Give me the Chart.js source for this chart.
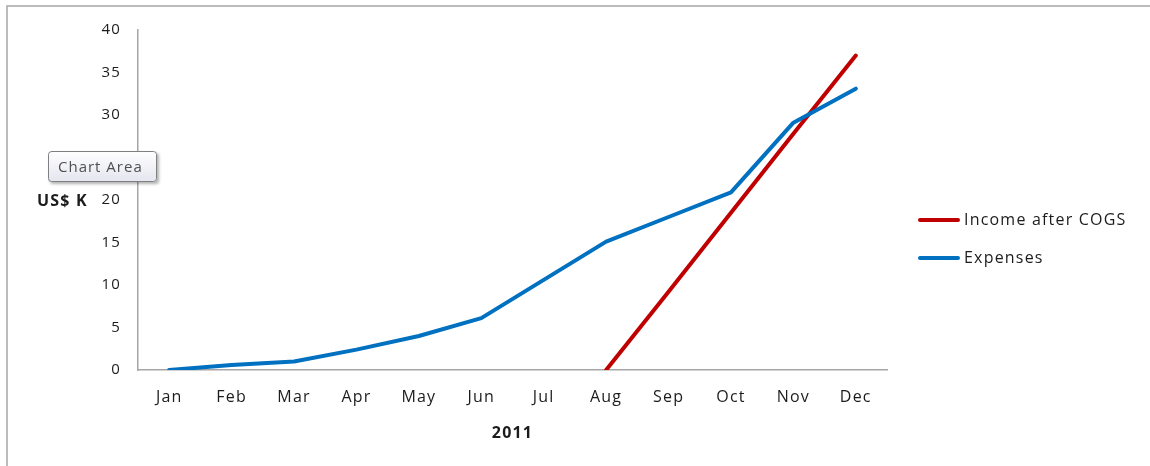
<!DOCTYPE html>
<html>
<head>
<meta charset="utf-8">
<title>Income vs Expenses 2011</title>
<script src="https://cdn.jsdelivr.net/npm/chart.js@4.4.1/dist/chart.umd.min.js"></script>
<style>
  html, body { margin: 0; padding: 0; background: #ffffff; }
  #wrap { position: relative; width: 1150px; height: 466px; }
</style>
</head>
<body>
<div id="wrap"><canvas id="chart"></canvas></div>
<script>
// Monthly figures for 2011, in thousands of US dollars
const months = ['Jan', 'Feb', 'Mar', 'Apr', 'May', 'Jun', 'Jul', 'Aug', 'Sep', 'Oct', 'Nov', 'Dec'];
const incomeAfterCogs = [null, null, null, null, null, null, null, 0, 9.2, 18.5, 27.8, 37];
const expenses = [0, 0.6, 1, 2.4, 4, 6.1, 10.6, 15.1, 18, 20.9, 29.1, 33.1];
const seriesNames = ['Income after COGS', 'Expenses'];
const yTickValues = [0, 5, 10, 15, 20, 25, 30, 35, 40];
const xTitle = '2011';
const yTitle = 'US$ K';
const hoverLabel = 'Chart Area';

const FONT = '"Open Sans", Lato, sans-serif';
const TEXT = '#1c1c1c';
const AXIS = '#a6a6a6';

// White page with the thin grey frame on the left and top edges
const framePlugin = {
  id: 'frame',
  beforeDraw(chart) {
    const ctx = chart.ctx;
    ctx.save();
    ctx.fillStyle = '#ffffff';
    ctx.fillRect(0, 0, chart.width, chart.height);
    ctx.strokeStyle = '#a6a6a6';
    ctx.lineWidth = 1.5;
    ctx.beginPath();
    ctx.moveTo(7, chart.height);
    ctx.lineTo(7, 6);
    ctx.lineTo(chart.width, 6);
    ctx.stroke();
    ctx.restore();
    // slightly open tracking for all chart text
    ctx.letterSpacing = '1.2px';
  }
};

// Horizontal value-axis caption, right-hand legend and the "Chart Area" hover box
const decorPlugin = {
  id: 'decor',
  afterDraw(chart) {
    const ctx = chart.ctx;
    const area = chart.chartArea;
    ctx.save();

    // value axis caption, level with the middle of the plot
    ctx.font = 'bold 16px ' + FONT;
    ctx.fillStyle = TEXT;
    ctx.textAlign = 'left';
    ctx.textBaseline = 'middle';
    ctx.fillText(yTitle, 37, (area.top + area.bottom) / 2 + 1);

    // legend: line sample followed by series name
    const lx = area.right + 31;
    chart.data.datasets.forEach((ds, i) => {
      const y = 220 + i * 38;
      ctx.strokeStyle = ds.borderColor;
      ctx.lineWidth = 4;
      ctx.lineCap = 'round';
      ctx.beginPath();
      ctx.moveTo(lx + 2, y);
      ctx.lineTo(lx + 40, y);
      ctx.stroke();
      ctx.font = '16px ' + FONT;
      ctx.fillStyle = TEXT;
      ctx.fillText(ds.label, lx + 46, y);
    });

    // hover box
    const bx = 48, by = 151, bw = 109, bh = 31, r = 3;
    ctx.save();
    ctx.shadowColor = 'rgba(0,0,0,0.30)';
    ctx.shadowBlur = 3;
    ctx.shadowOffsetX = 2;
    ctx.shadowOffsetY = 2;
    const grad = ctx.createLinearGradient(0, by, 0, by + bh);
    grad.addColorStop(0, '#ffffff');
    grad.addColorStop(1, '#e4e5ee');
    ctx.fillStyle = grad;
    ctx.beginPath();
    ctx.roundRect(bx, by, bw, bh, r);
    ctx.fill();
    ctx.restore();
    ctx.strokeStyle = '#808080';
    ctx.lineWidth = 1;
    ctx.beginPath();
    ctx.roundRect(bx + 0.5, by + 0.5, bw - 1, bh - 1, r);
    ctx.stroke();
    ctx.letterSpacing = '1px';
    ctx.font = '15px ' + FONT;
    ctx.fillStyle = '#505050';
    ctx.textBaseline = 'middle';
    ctx.fillText(hoverLabel, bx + 10, by + bh / 2 + 1);

    ctx.restore();
  }
};

new Chart(document.getElementById('chart'), {
  type: 'line',
  data: {
    labels: months,
    datasets: [
      {
        label: seriesNames[0],
        data: incomeAfterCogs,
        borderColor: '#c00000',
        backgroundColor: '#c00000',
        order: 1
      },
      {
        label: seriesNames[1],
        data: expenses,
        borderColor: '#0070c0',
        backgroundColor: '#0070c0',
        order: 0
      }
    ]
  },
  options: {
    responsive: true,
    maintainAspectRatio: false,
    animation: false,
    layout: { padding: { top: 30, right: 263, bottom: 0, left: 0 } },
    elements: {
      line: { borderWidth: 4, tension: 0, borderCapStyle: 'round', borderJoinStyle: 'round' },
      point: { radius: 0, hoverRadius: 0 }
    },
    plugins: {
      legend: { display: false },
      tooltip: { enabled: false }
    },
    events: [],
    scales: {
      x: {
        offset: true,
        grid: { display: false, drawTicks: false },
        border: { display: true, color: AXIS, width: 1.5 },
        ticks: { color: TEXT, font: { family: FONT, size: 16 }, padding: 18, maxRotation: 0, autoSkip: false },
        title: {
          display: true, text: xTitle, color: TEXT,
          font: { family: FONT, size: 16, weight: 'bold' },
          padding: { top: 0, bottom: 23 }
        },
        afterFit(scale) { scale.height = 96; }
      },
      y: {
        min: 0,
        max: 40,
        grid: { display: false, drawTicks: false },
        border: { display: true, color: AXIS, width: 1.5 },
        ticks: { color: TEXT, font: { family: FONT, size: 15 }, padding: 17 },
        afterBuildTicks(scale) { scale.ticks = yTickValues.map(v => ({ value: v })); },
        afterFit(scale) { scale.width = 138; }
      }
    }
  },
  plugins: [framePlugin, decorPlugin]
});
</script>
</body>
</html>
